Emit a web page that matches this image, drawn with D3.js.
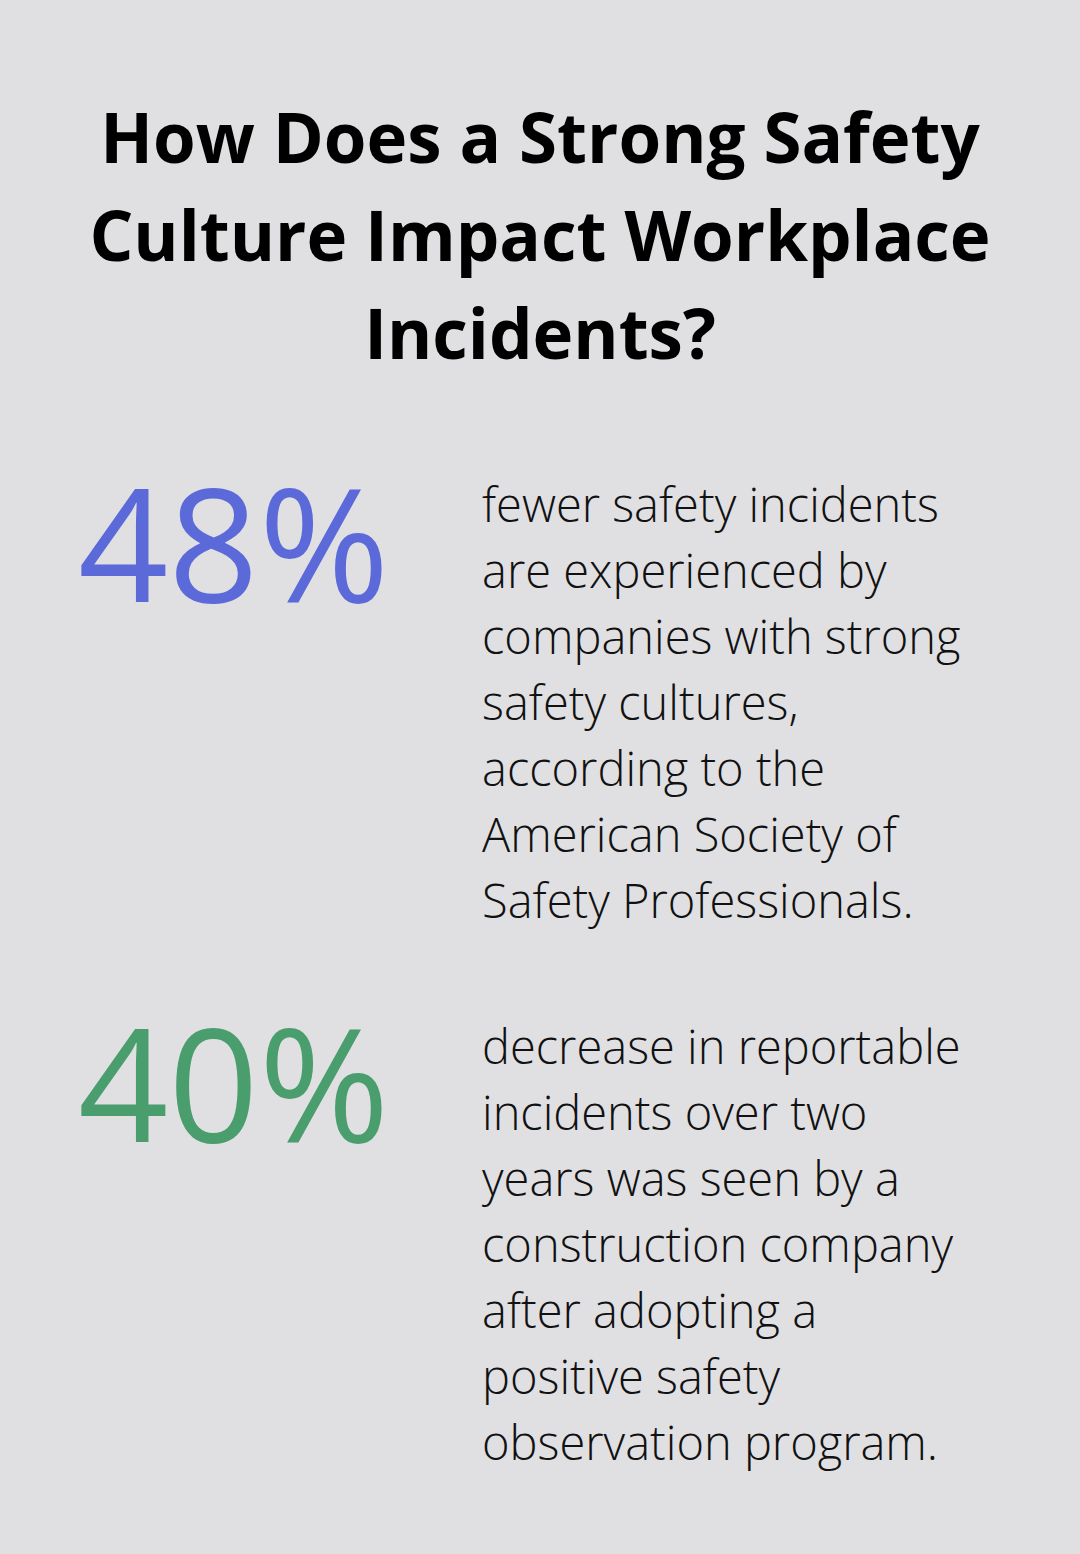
<!DOCTYPE html>
<html>
<head>
<meta charset="utf-8">
<script src="https://cdn.jsdelivr.net/npm/d3@7"></script>
<style>
  body { margin: 0; background: #e0e0e3; }
  text { font-family: "Open Sans", sans-serif; }
</style>
</head>
<body>
<div id="chart"></div>
<script>
const width = 1080, height = 1554;

const title_lines = ["How Does a Strong Safety", "Culture Impact Workplace", "Incidents?"];
const stat_values = ["48%", "40%"];
const stat_colors = ["#5b6ad8", "#4a9e6e"];
const stat_lines = [
  ["fewer safety incidents", "are experienced by", "companies with strong", "safety cultures,",
   "according to the", "American Society of", "Safety Professionals."],
  ["decrease in reportable", "incidents over two", "years was seen by a", "construction company",
   "after adopting a", "positive safety", "observation program."]
];

const svg = d3.select("#chart").append("svg")
  .attr("width", width).attr("height", height);

svg.append("rect").attr("width", width).attr("height", height).attr("fill", "#e0e0e3");

svg.selectAll("text.title")
  .data(title_lines)
  .join("text")
    .attr("class", "title")
    .attr("x", width / 2)
    .attr("y", (d, i) => 163 + i * 98)
    .attr("text-anchor", "middle")
    .attr("font-size", 69)
    .attr("font-weight", 700)
    .attr("fill", "#000")
    .text(d => d);

const block_y = [602, 1142];
const text_y = [522, 1064];

stat_values.forEach((v, i) => {
  svg.append("text")
    .attr("x", 78)
    .attr("y", block_y[i])
    .attr("font-size", 158)
    .attr("font-weight", 500)
    .attr("fill", stat_colors[i])
    .text(v);

  svg.append("g").selectAll("text")
    .data(stat_lines[i])
    .join("text")
      .attr("x", 482)
      .attr("y", (d, j) => text_y[i] + j * 66)
      .attr("font-size", 47)
      .attr("font-weight", 300)
      .attr("fill", "#111")
      .text(d => d);
});
</script>
</body>
</html>
